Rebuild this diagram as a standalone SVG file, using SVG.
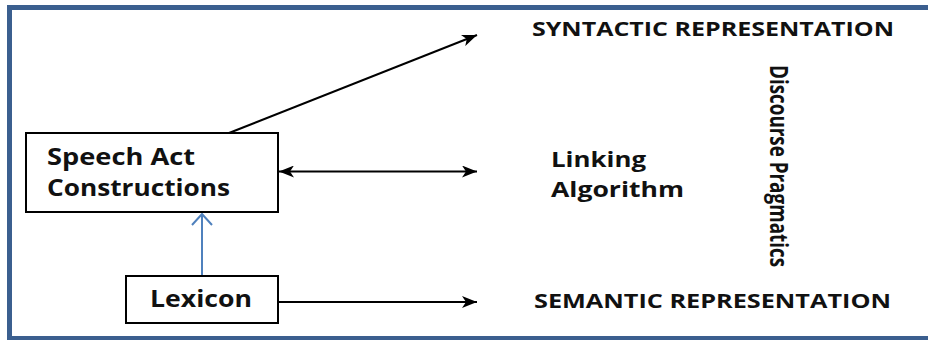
<svg xmlns="http://www.w3.org/2000/svg" width="928" height="340" viewBox="0 0 928 340">
  <defs>
    <marker id="ah" markerUnits="userSpaceOnUse" markerWidth="16" markerHeight="12" refX="15" refY="6" orient="auto-start-reverse">
      <path d="M0,0 L15,6 L0,12 L4,6 Z" fill="#000"/>
    </marker>
  </defs>
  <style>
    .box { fill: #fff; stroke: #000; stroke-width: 2; }
    .t { font-family: "Open Sans", "Liberation Sans", sans-serif; font-weight: bold; fill: #111; }
    .big { font-size: 23px; }
    .mid { font-size: 21px; }
    .cap { font-size: 19px; }
    .ln { stroke: #000; stroke-width: 2; fill: none; }
  </style>
  <rect x="0" y="0" width="928" height="340" fill="#fff"/>
  <rect x="9.5" y="7.5" width="940" height="331" fill="none" stroke="#3b5f8f" stroke-width="5"/>

  <g id="connectors">
    <line class="ln" x1="229" y1="133" x2="477" y2="35" marker-end="url(#ah)"/>
    <line class="ln" x1="279" y1="171.5" x2="477" y2="171.5" marker-start="url(#ah)" marker-end="url(#ah)"/>
    <line class="ln" x1="278" y1="302" x2="477" y2="302" marker-end="url(#ah)"/>
    <line x1="202" y1="276" x2="202" y2="214" stroke="#4f81bd" stroke-width="2"/>
    <polyline points="192,225 202,214 212,225" fill="none" stroke="#4f81bd" stroke-width="2"/>
  </g>

  <g id="speech-act">
    <rect class="box" x="26" y="133" width="252" height="79"/>
    <text class="t big" x="47" y="165" textLength="148" lengthAdjust="spacingAndGlyphs">Speech Act</text>
    <text class="t big" x="47" y="196" textLength="183" lengthAdjust="spacingAndGlyphs">Constructions</text>
  </g>

  <g id="lexicon">
    <rect class="box" x="126" y="276" width="152" height="47"/>
    <text class="t big" x="150" y="307" textLength="102" lengthAdjust="spacingAndGlyphs">Lexicon</text>
  </g>

  <g id="linking">
    <text class="t mid" x="551" y="167" textLength="95" lengthAdjust="spacingAndGlyphs">Linking</text>
    <text class="t mid" x="551" y="197" textLength="133" lengthAdjust="spacingAndGlyphs">Algorithm</text>
  </g>

  <g id="syntactic">
    <text class="t cap" x="532" y="36" textLength="362" lengthAdjust="spacingAndGlyphs">SYNTACTIC REPRESENTATION</text>
  </g>

  <g id="semantic">
    <text class="t cap" x="534" y="308" textLength="357" lengthAdjust="spacingAndGlyphs">SEMANTIC REPRESENTATION</text>
  </g>

  <g id="discourse">
    <text class="t" font-size="19" transform="translate(770,65) rotate(90) scale(1,1.3)" x="0" y="0" textLength="202" lengthAdjust="spacingAndGlyphs">Discourse Pragmatics</text>
  </g>
</svg>
